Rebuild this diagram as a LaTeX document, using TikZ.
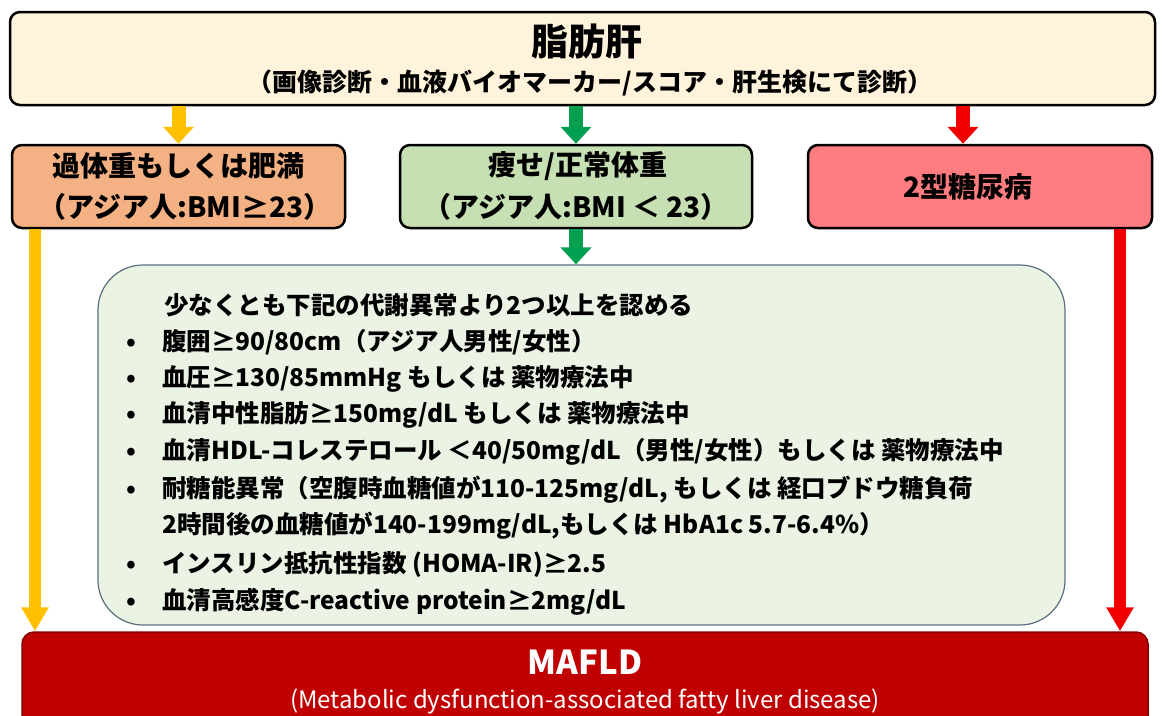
\documentclass[tikz,border=0pt]{standalone}
\usepackage{fontspec}
\setmainfont{Noto Sans CJK JP}
\usetikzlibrary{arrows.meta,positioning,calc}

\definecolor{liverfill}{HTML}{FFF3DC}
\definecolor{overfill}{HTML}{F4B183}
\definecolor{leanfill}{HTML}{C6E0B4}
\definecolor{dmfill}{HTML}{FF7C80}
\definecolor{metafill}{HTML}{EBF3E4}
\definecolor{metaline}{HTML}{5B6F7E}
\definecolor{mafldfill}{HTML}{C00000}
\definecolor{yarrow}{HTML}{FFC000}
\definecolor{garrow}{HTML}{00A050}
\definecolor{rarrow}{HTML}{F00000}

\begin{document}
\begin{tikzpicture}[x=1pt,y=-1pt,
        box/.style={draw=black, line width=2.5pt, rounded corners=10pt, inner sep=0pt},
        flow/.style={line width=14pt, -{Triangle[width=30pt,length=17pt]}},
        drop/.style={line width=12pt, -{Triangle[width=26pt,length=24pt]}},
        big/.style={font=\fontsize{37}{42}\selectfont\bfseries},
        mid/.style={font=\fontsize{28}{33}\selectfont\bfseries},
        small/.style={font=\fontsize{25}{29}\selectfont\bfseries},
        item/.style={anchor=west, inner sep=0pt, font=\fontsize{24.5}{28}\selectfont\bfseries}
      ]
        \useasboundingbox (0,0) rectangle (1162,715);
        \clip (0,0) rectangle (1162,715);

        % Fettleber
        \node[box, fill=liverfill, minimum width=1145pt, minimum height=93pt] (liver) at (582.5,58.5) {};
        \node[big] (livertitle) at (587,42) {脂肪肝};
        \node[small] (liversub) at (590,83) {（画像診断・血液バイオマーカー/スコア・肝生検にて診断）};

        % drei Gruppen
        \node[box, fill=overfill, minimum width=333pt, minimum height=83pt] (over) at (178.5,186.5) {};
        \node[mid] at (178,166) {過体重もしくは肥満};
        \node[mid] at (185,207) {（アジア人:BMI≥23）};

        \node[box, fill=leanfill, minimum width=352pt, minimum height=83pt] (lean) at (576,186.5) {};
        \node[mid] at (578,166) {痩せ/正常体重};
        \node[mid] at (576,207) {（アジア人:BMI ＜ 23）};

        \node[box, fill=dmfill, minimum width=344pt, minimum height=83pt] (dm) at (980,186.5) {};
        \node[mid] at (968,187) {2型糖尿病};

        % Stoffwechselkriterien
        \node[draw=metaline, line width=1.2pt, fill=metafill, rounded corners=45pt,
              minimum width=967pt, minimum height=360pt] (meta) at (581.5,445) {};
        \node[item] (head) at (164,305) {少なくとも下記の代謝異常より2つ以上を認める};
        \node[item] (i1) at (126,342) {\makebox[36pt][l]{•}腹囲≥90/80cm（アジア人男性/女性）};
        \node[item] (i2) at (126,379) {\makebox[36pt][l]{•}血圧≥130/85mmHg もしくは 薬物療法中};
        \node[item] (i3) at (126,415) {\makebox[36pt][l]{•}血清中性脂肪≥150mg/dL もしくは 薬物療法中};
        \node[item] (i4) at (126,452) {\makebox[36pt][l]{•}血清HDL-コレステロール ＜40/50mg/dL（男性/女性）もしくは 薬物療法中};
        \node[item] (i5) at (126,490) {\makebox[36pt][l]{•}耐糖能異常（空腹時血糖値が110-125mg/dL, もしくは 経口ブドウ糖負荷};
        \node[item] (i5b) at (162,526) {2時間後の血糖値が140-199mg/dL,もしくは HbA1c 5.7-6.4\%）};
        \node[item] (i6) at (126,565) {\makebox[36pt][l]{•}インスリン抵抗性指数 (HOMA-IR)≥2.5};
        \node[item] (i7) at (126,602) {\makebox[36pt][l]{•}血清高感度C-reactive protein≥2mg/dL};

        % MAFLD
        \node[draw=mafldfill!70!black, line width=1.5pt, fill=mafldfill, rounded corners=12pt,
              minimum width=1126pt, minimum height=110pt] (mafld) at (585,687) {};
        \node[big, font=\fontsize{33}{38}\selectfont\bfseries, text=white] (mafldtitle) at (585,662) {MAFLD};
        \node[small, font=\fontsize{24}{28}\selectfont, text=white] (mafldsub) at (585,701)
              {(Metabolic dysfunction-associated fatty liver disease)};

        % Pfeile
        \draw[flow, yarrow] (liver.south -| over.north) -- (over.north);
        \draw[flow, garrow] (liver.south -| lean.north) -- (lean.north);
        \coordinate (dmin) at (963,0);
        \draw[flow, rarrow] (liver.south -| dmin) -- (dm.north -| dmin);
        \draw[flow, garrow] (lean.south) -- (meta.north -| lean.south);

        \coordinate (ydown) at (35,0);
        \coordinate (rdown) at (1120,0);
        \draw[drop, yarrow] (over.south -| ydown) -- (mafld.north -| ydown);
        \draw[drop, rarrow] (dm.south -| rdown) -- (mafld.north -| rdown);
      \end{tikzpicture}
\end{document}
